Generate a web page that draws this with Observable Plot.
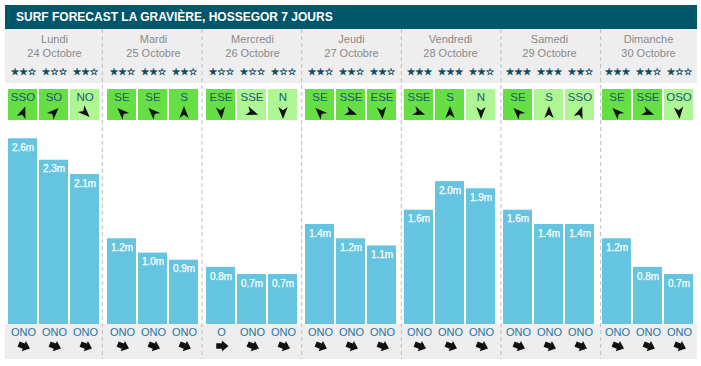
<!DOCTYPE html>
<html><head><meta charset="utf-8">
<script src="https://cdn.jsdelivr.net/npm/d3@7"></script>
<script src="https://cdn.jsdelivr.net/npm/@observablehq/plot@0.6"></script>
<style>
body{margin:0;background:#fff;font-family:"Liberation Sans",Arial,sans-serif;}
#wrap{position:relative;margin:5px 0 0 5px;width:692px;}
#title{height:24px;background:#00566b;color:#fff;font-weight:bold;font-size:12px;line-height:24px;padding-left:11px;box-sizing:border-box;white-space:nowrap;}
#rows svg{display:block;}
#sep{position:absolute;left:0;top:24px;pointer-events:none;}
#sep svg{display:block;}
</style></head><body>
<div id="wrap">
<div id="title">SURF FORECAST LA GRAVIÈRE, HOSSEGOR 7 JOURS</div>
<div id="rows"></div>
<div id="sep"></div>
</div>
<script>
const days = ["Lundi","Mardi","Mercredi","Jeudi","Vendredi","Samedi","Dimanche"];
const dates = ["24 Octobre","25 Octobre","26 Octobre","27 Octobre","28 Octobre","29 Octobre","30 Octobre"];
const starRating = [2,1,2, 2,2,2, 1,1,1, 2,2,2, 3,3,2, 3,3,2, 3,2,1];
const windDir = ["SSO","SO","NO", "SE","SE","S", "ESE","SSE","N", "SE","SSE","ESE", "SSE","S","N", "SE","S","SSO", "SE","SSE","OSO"];
const windKind = ["fort","fort","faible", "fort","fort","fort", "fort","faible","faible", "fort","fort","fort", "fort","fort","faible", "fort","faible","faible", "fort","fort","faible"];
const windArrow = [20,45,135, 315,315,0, 175,110,180, 315,110,175, 110,0,180, 315,0,20, 315,110,175];
const waveHeight = [2.6,2.3,2.1, 1.2,1.0,0.9, 0.8,0.7,0.7, 1.4,1.2,1.1, 1.6,2.0,1.9, 1.6,1.4,1.4, 1.2,0.8,0.7];
const swellDir = ["ONO","ONO","ONO", "ONO","ONO","ONO", "O","ONO","ONO", "ONO","ONO","ONO", "ONO","ONO","ONO", "ONO","ONO","ONO", "ONO","ONO","ONO"];
const swellArrow = [112,112,112, 112,112,112, 90,112,112, 112,112,112, 112,112,112, 112,112,112, 112,112,112];

const dayRows = days.map((d, i) => ({day: d, date: dates[i], period: 1}));
const slots = waveHeight.map((h, i) => ({
  day: days[Math.floor(i / 3)], period: i % 3,
  stars: starRating[i], wind: windDir[i], windKind: windKind[i], windAngle: windArrow[i],
  height: h, swell: swellDir[i], swellAngle: swellArrow[i]
}));

const W = 692;
const FONT = "Liberation Sans, Arial, sans-serif";
const fxOpt = {domain: days, paddingInner: 0.057, paddingOuter: 0, axis: null, label: null};
const xOpt = {domain: [0, 1, 2], paddingInner: 0.05, paddingOuter: 0, axis: null, label: null};

const windArrowSymbol = {
  draw(ctx, size) {
    const r = Math.sqrt(size / Math.PI);
    ctx.moveTo(0, -r);
    ctx.lineTo(0.72 * r, 0.85 * r);
    ctx.lineTo(0, 0.35 * r);
    ctx.lineTo(-0.72 * r, 0.85 * r);
    ctx.closePath();
  }
};
const swellArrowSymbol = {
  draw(ctx, size) {
    const r = Math.sqrt(size / Math.PI);
    ctx.moveTo(0, -r);
    ctx.lineTo(0.8 * r, -0.05 * r);
    ctx.lineTo(0.4 * r, -0.05 * r);
    ctx.lineTo(0.4 * r, 0.75 * r);
    ctx.lineTo(-0.4 * r, 0.75 * r);
    ctx.lineTo(-0.4 * r, -0.05 * r);
    ctx.lineTo(-0.8 * r, -0.05 * r);
    ctx.closePath();
  }
};

const mid = {frameAnchor: "top", lineAnchor: "middle"};

const header = Plot.plot({
  width: W, height: 54, margin: 0,
  fx: fxOpt, x: xOpt,
  style: {background: "#eeeeee", fontFamily: FONT},
  marks: [
    Plot.text(dayRows, {...mid, fx: "day", x: "period", text: "day", dy: 10, fontSize: 11, fill: "#8a8a8a"}),
    Plot.text(dayRows, {...mid, fx: "day", x: "period", text: "date", dy: 23.5, fontSize: 11, fill: "#8a8a8a"}),
    Plot.text(slots, {...mid, fx: "day", x: "period", text: d => "★".repeat(d.stars) + "☆".repeat(3 - d.stars),
      dy: 42.5, fontSize: 9.5, fill: "#0d4a5e", stroke: "#0d4a5e", strokeWidth: 0.35, fontFamily: "DejaVu Sans"})
  ]
});

const wind = Plot.plot({
  width: W, height: 41, margin: 0,
  fx: fxOpt, x: xOpt,
  color: {domain: ["fort", "faible"], range: ["#66df45", "#aef593"]},
  style: {background: "#ffffff", fontFamily: FONT},
  marks: [
    Plot.cell(slots, {fx: "day", x: "period", fill: "windKind", insetTop: 6, insetBottom: 4}),
    Plot.text(slots, {...mid, fx: "day", x: "period", text: "wind", dy: 14, fontSize: 11.5, fill: "#1b5872"}),
    Plot.dot(slots, {fx: "day", x: "period", frameAnchor: "top", dy: 29, symbol: windArrowSymbol, r: 6.5,
      rotate: "windAngle", fill: "#111", stroke: "none"})
  ]
});

const bars = Plot.plot({
  width: W, height: 200, margin: 0,
  fx: fxOpt, x: xOpt,
  y: {domain: [0, 2.8], axis: null},
  style: {background: "#ffffff", fontFamily: FONT},
  marks: [
    Plot.barY(slots, {fx: "day", x: "period", y: "height", fill: "#65c4df"}),
    Plot.text(slots, {fx: "day", x: "period", y: "height", text: d => d.height.toFixed(1) + "m",
      dy: 9, fontSize: 10, fill: "#ffffff", stroke: "#ffffff", strokeWidth: 0.25})
  ]
});

const footer = Plot.plot({
  width: W, height: 35, margin: 0,
  fx: fxOpt, x: xOpt,
  style: {background: "#eeeeee", fontFamily: FONT},
  marks: [
    Plot.text(slots, {...mid, fx: "day", x: "period", text: "swell", dy: 7.5, fontSize: 11, fill: "#1f74a6"}),
    Plot.dot(slots, {fx: "day", x: "period", frameAnchor: "top", dy: 21.5, symbol: swellArrowSymbol, r: 7,
      rotate: "swellAngle", fill: "#111", stroke: "none"})
  ]
});

const rows = document.getElementById("rows");
[header, wind, bars, footer].forEach(p => rows.appendChild(p));

const fxScale = Plot.scale({x: {type: "band", domain: days, range: [0, W], paddingInner: 0.057, paddingOuter: 0}});
const gap = fxScale.step - fxScale.bandwidth;
const sepX = days.slice(1).map(d => fxScale.apply(d) - gap / 2);
const sep = Plot.plot({
  width: W, height: 330, margin: 0,
  x: {type: "identity"},
  style: {background: "transparent"},
  marks: [Plot.ruleX(sepX, {stroke: "#bdbdbd", strokeDasharray: "4,3"})]
});
document.getElementById("sep").appendChild(sep);
</script>
</body></html>
